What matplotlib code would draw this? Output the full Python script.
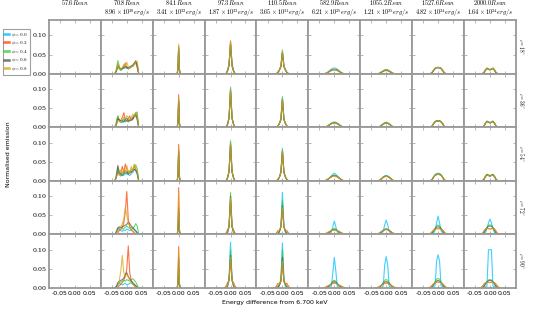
import matplotlib
matplotlib.use("Agg")
import matplotlib.pyplot as plt
import matplotlib.ticker as mticker
from matplotlib.lines import Line2D

plt.rcParams['mathtext.fontset'] = 'cm'

# ---------------- data ----------------
PHASES = ["0.0", "0.2", "0.4", "0.6", "0.8"]
COLORS = ["#00BFFF", "#FF4500", "#32CD32", "#555555", "#DAA520"]
INCLINATIONS = [18, 36, 54, 72, 90]
RADII = ["57.6", "70.8", "84.1", "97.3", "110.5", "582.9", "1055.2", "1527.6", "2000.0"]
LUMS = [None, r"8.96\times10^{30}", r"3.41\times10^{32}", r"1.87\times10^{32}",
        r"3.65\times10^{31}", r"6.21\times10^{25}", r"1.21\times10^{25}",
        r"4.82\times10^{24}", r"1.64\times10^{24}"]

# energy grids (keV offset from 6.700 keV) per column
E708 = [-0.045, -0.04, -0.035, -0.03, -0.025, -0.02, -0.015, -0.01, -0.005, 0.0,
        0.005, 0.01, 0.015, 0.02, 0.025, 0.03, 0.035, 0.04, 0.045]
E841 = [-0.0075, -0.005, -0.0025, 0.0, 0.0025, 0.005, 0.0075]
E973 = [-0.02, -0.015, -0.01, -0.005, 0.0, 0.005, 0.01, 0.015, 0.02]
E1105 = [-0.025, -0.02, -0.015, -0.01, -0.005, 0.0, 0.005, 0.01, 0.015, 0.02, 0.025]
EWIDE = [-0.035, -0.03, -0.025, -0.02, -0.015, -0.01, -0.005, 0.0, 0.005, 0.01,
         0.015, 0.02, 0.025, 0.03, 0.035]

# emission values in units of 1e-3, one list per phase (0.0,0.2,0.4,0.6,0.8)
# ---- i = 18
I18_708 = [[0,0,5,18,15,10,12,14,15,18,14,15,17,20,25,28,20,0,0],
           [0,0,8,25,12,10,15,20,28,15,12,16,18,22,28,30,15,0,0],
           [0,0,12,34,20,8,12,15,18,14,16,14,20,18,24,32,25,0,0],
           [0,0,6,20,15,12,14,16,20,16,15,18,20,22,26,34,22,0,0],
           [0,0,8,22,14,10,16,24,20,30,18,14,18,20,24,30,33,0,0]]
I18_841 = [[0,0,12,70,10,0,0],[0,0,14,72,12,0,0],[0,0,10,68,10,0,0],
           [0,0,12,64,10,0,0],[0,0,14,77,12,0,0]]
I18_973 = [[0,0,8,25,75,28,8,0,0],[0,0,8,22,85,20,6,0,0],[0,0,7,22,80,20,7,0,0],
           [0,0,8,22,78,22,8,0,0],[0,0,8,24,86,22,8,0,0]]
I18_1105 = [[0,0,3,10,20,55,20,10,3,0,0],[0,0,3,9,18,56,18,9,3,0,0],
            [0,0,3,10,20,62,20,10,3,0,0],[0,0,3,10,19,55,19,10,3,0,0],
            [0,1,4,10,20,58,20,10,4,1,0]]
I18_5829 = [[0,0,2,5,9,12,14,15,14,12,9,5,2,0,0],[0,0,2,4,7,9,10,11,10,9,7,4,2,0,0],
            [0,0,2,4,7,9,11,11,11,9,7,4,2,0,0],[0,0,2,4,6,8,10,10,10,8,6,4,2,0,0],
            [0,1,2,4,7,9,10,11,10,9,7,4,2,1,0]]
I18_10552 = [[0,0,0,2,5,8,10,11,10,8,5,2,0,0,0],[0,0,0,2,4,6,8,9,8,6,4,2,0,0,0],
             [0,0,0,2,5,7,9,10,9,7,5,2,0,0,0],[0,0,0,2,4,6,8,9,8,6,4,2,0,0,0],
             [0,0,1,3,5,7,9,10,9,7,5,3,1,0,0]]
I18_15276 = [[0,0,0,3,9,14,16,17,16,14,9,3,0,0,0],[0,0,0,3,9,14,16,16,16,14,9,3,0,0,0],
             [0,0,0,3,9,14,16,16,16,14,9,3,0,0,0],[0,0,0,3,8,13,15,15,15,13,8,3,0,0,0],
             [0,0,1,4,9,14,16,16,16,14,9,4,1,0,0]]
I18_20000 = [[0,0,0,3,10,14,12,10,12,14,10,3,0,0,0],[0,0,0,3,10,14,12,10,12,14,10,3,0,0,0],
             [0,0,0,3,10,15,12,11,12,15,10,3,0,0,0],[0,0,0,3,9,13,11,10,11,13,9,3,0,0,0],
             [0,0,1,4,10,14,12,10,12,14,10,4,1,0,0]]
# ---- i = 36
I36_708 = [[0,0,8,20,18,15,12,16,14,18,15,20,18,22,28,30,18,0,0],
           [0,0,10,28,14,18,25,38,20,16,22,30,18,20,32,38,26,0,0],
           [0,0,14,30,18,12,16,22,18,15,14,20,24,26,30,36,40,0,0],
           [0,0,6,22,20,16,18,14,20,24,18,16,20,22,28,32,24,0,0],
           [0,0,8,18,16,14,20,26,22,30,26,18,22,34,28,36,30,0,0]]
I36_841 = [[0,0,12,65,10,0,0],[0,0,14,85,12,0,0],[0,0,12,72,10,0,0],
           [0,0,12,70,10,0,0],[0,0,14,80,12,0,0]]
I36_973 = [[0,0,8,25,105,25,8,0,0],[0,0,8,24,95,22,8,0,0],[0,0,8,25,100,24,8,0,0],
           [0,0,8,24,95,24,8,0,0],[0,0,8,25,100,24,8,0,0]]
I36_1105 = [[0,0,3,10,22,80,22,10,3,0,0],[0,0,3,10,20,74,20,10,3,0,0],
            [0,0,3,10,21,76,21,10,3,0,0],[0,0,3,10,20,72,20,10,3,0,0],
            [0,1,4,10,21,75,21,10,4,1,0]]
I36_5829 = [[0,0,2,5,8,11,13,14,13,11,8,5,2,0,0],[0,1,2,4,7,9,11,12,11,9,7,4,2,1,0],
            [0,0,2,4,7,10,12,12,12,10,7,4,2,0,0],[0,0,2,4,7,9,11,11,11,9,7,4,2,0,0],
            [0,1,3,5,7,9,11,12,11,9,7,5,3,1,0]]
I36_10552 = [[0,0,0,2,6,9,12,13,12,9,6,2,0,0,0],[0,0,1,3,5,8,10,11,10,8,5,3,1,0,0],
             [0,0,0,2,6,9,11,12,11,9,6,2,0,0,0],[0,0,0,2,5,8,10,11,10,8,5,2,0,0,0],
             [0,0,1,3,6,8,10,11,10,8,6,3,1,0,0]]
I36_15276 = [[0,0,0,3,10,15,17,18,17,15,10,3,0,0,0],[0,0,1,4,10,14,16,16,16,14,10,4,1,0,0],
             [0,0,0,3,10,15,17,17,17,15,10,3,0,0,0],[0,0,0,3,9,14,16,16,16,14,9,3,0,0,0],
             [0,0,1,4,10,14,16,16,16,14,10,4,1,0,0]]
I36_20000 = [[0,0,0,4,11,16,14,12,14,16,11,4,0,0,0],[0,0,1,4,11,15,13,11,13,15,11,4,1,0,0],
             [0,0,0,4,11,16,14,12,14,16,11,4,0,0,0],[0,0,0,3,10,15,13,11,13,15,10,3,0,0,0],
             [0,0,1,4,11,15,13,11,13,15,11,4,1,0,0]]
# ---- i = 54
I54_708 = [[0,0,10,22,18,12,16,14,20,18,16,14,18,22,30,26,16,0,0],
           [0,0,12,26,16,20,38,22,44,30,18,26,22,28,40,30,20,0,0],
           [0,0,16,36,20,16,22,24,18,20,26,22,30,28,34,42,32,0,0],
           [0,0,8,40,22,18,14,20,26,22,18,20,24,26,30,28,22,0,0],
           [0,0,10,20,14,28,18,30,22,40,24,18,38,26,44,32,26,0,0]]
I54_841 = [[0,0,12,70,10,0,0],[0,0,14,95,12,0,0],[0,0,12,75,10,0,0],
           [0,0,12,80,10,0,0],[0,0,14,88,12,0,0]]
I54_973 = [[0,0,8,25,100,25,8,0,0],[0,0,8,24,95,22,8,0,0],[0,0,8,25,105,24,8,0,0],
           [0,0,8,24,95,24,8,0,0],[0,0,8,25,98,24,8,0,0]]
I54_1105 = [[0,0,3,10,24,85,24,10,3,0,0],[0,0,3,10,22,78,22,10,3,0,0],
            [0,0,3,10,23,80,23,10,3,0,0],[0,0,3,10,22,76,22,10,3,0,0],
            [0,1,4,10,22,78,22,10,4,1,0]]
I54_5829 = [[0,0,2,5,9,13,17,20,17,13,9,5,2,0,0],[0,1,3,5,8,10,12,13,12,10,8,5,3,1,0],
            [0,0,2,5,8,11,14,15,14,11,8,5,2,0,0],[0,0,2,5,8,11,13,14,13,11,8,5,2,0,0],
            [0,1,3,5,8,10,12,13,12,10,8,5,3,1,0]]
I54_10552 = [[0,0,0,2,6,10,13,14,13,10,6,2,0,0,0],[0,0,1,3,6,9,11,12,11,9,6,3,1,0,0],
             [0,0,0,2,6,10,12,13,12,10,6,2,0,0,0],[0,0,0,2,6,9,11,12,11,9,6,2,0,0,0],
             [0,0,1,3,6,9,11,12,11,9,6,3,1,0,0]]
I54_15276 = [[0,0,0,3,10,16,19,20,19,16,10,3,0,0,0],[0,0,1,4,10,14,16,17,16,14,10,4,1,0,0],
             [0,0,0,3,10,15,17,18,17,15,10,3,0,0,0],[0,0,0,3,10,15,17,17,17,15,10,3,0,0,0],
             [0,0,1,4,10,14,16,17,16,14,10,4,1,0,0]]
I54_20000 = [[0,0,0,4,12,17,15,14,15,17,12,4,0,0,0],[0,0,1,5,12,16,14,12,14,16,12,5,1,0,0],
             [0,0,0,4,12,17,15,13,15,17,12,4,0,0,0],[0,0,0,4,11,16,14,12,14,16,11,4,0,0,0],
             [0,0,1,5,12,16,14,12,14,16,12,5,1,0,0]]
# ---- i = 72
I72_708 = [[0,0,6,18,14,10,8,12,10,14,12,10,12,16,12,8,4,0,0],
           [0,0,0,4,10,14,18,30,60,112,40,20,12,8,4,0,0,0,0],
           [0,0,4,12,16,18,14,16,18,22,18,16,18,16,20,28,22,0,0],
           [0,0,8,16,20,18,20,22,24,26,32,28,22,18,14,10,4,0,0],
           [0,0,4,10,16,20,28,40,70,50,30,20,14,10,6,2,0,0,0]]
I72_841 = [[0,0,8,45,8,0,0],[0,0,16,122,14,0,0],[0,0,10,60,10,0,0],
           [0,0,12,70,10,0,0],[0,0,16,110,14,0,0]]
I72_973 = [[0,0,4,20,85,20,4,0,0],[0,4,12,18,90,18,12,4,0],[0,0,6,24,110,24,6,0,0],
           [0,0,6,22,100,22,6,0,0],[0,2,8,22,95,22,8,2,0]]
I72_1105 = [[0,0,2,6,22,110,22,6,2,0,0],[0,4,10,10,18,65,18,10,10,4,0],
            [0,0,3,8,22,90,22,8,3,0,0],[0,0,3,8,20,75,20,8,3,0,0],
            [0,3,8,10,20,70,20,10,8,3,0]]
I72_5829 = [[0,0,0,1,3,6,20,35,20,6,3,1,0,0,0],[0,2,4,6,8,10,11,12,11,10,8,6,4,2,0],
            [0,0,1,3,6,10,14,16,14,10,6,3,1,0,0],[0,0,2,4,7,10,12,13,12,10,7,4,2,0,0],
            [0,2,4,6,8,10,11,12,11,10,8,6,4,2,0]]
I72_10552 = [[0,0,0,1,3,8,25,37,25,8,3,1,0,0,0],[0,1,3,5,8,10,12,13,12,10,8,5,3,1,0],
             [0,0,1,3,7,11,14,15,14,11,7,3,1,0,0],[0,0,1,4,7,10,12,14,12,10,7,4,1,0,0],
             [0,1,3,5,8,10,12,13,12,10,8,5,3,1,0]]
I72_15276 = [[0,0,0,1,4,10,30,48,30,10,4,1,0,0,0],[0,0,3,7,11,14,15,15,15,14,11,7,3,0,0],
             [0,0,0,2,8,16,22,25,22,16,8,2,0,0,0],[0,0,1,4,10,15,19,20,19,15,10,4,1,0,0],
             [0,0,3,7,11,14,15,15,15,14,11,7,3,0,0]]
I72_20000 = [[0,0,0,1,5,14,30,40,30,14,5,1,0,0,0],[0,0,3,9,14,16,15,14,15,16,14,9,3,0,0],
             [0,0,0,3,10,18,24,25,24,18,10,3,0,0,0],[0,0,1,5,12,18,21,22,21,18,12,5,1,0,0],
             [0,0,3,9,14,16,15,15,15,16,14,9,3,0,0]]
# ---- i = 90
I90_708 = [[0,0,4,10,12,10,8,10,12,8,10,12,14,10,8,6,2,0,0],
           [0,0,0,2,6,10,14,20,30,50,110,40,20,12,6,2,0,0,0],
           [0,0,2,10,14,16,18,20,18,22,20,18,22,24,20,16,8,0,0],
           [0,0,4,14,18,20,22,26,34,40,30,24,18,14,10,6,2,0,0],
           [0,0,0,4,20,45,85,40,30,36,28,20,14,10,6,2,0,0,0]]
I90_841 = [[0,0,8,35,8,0,0],[0,0,16,108,14,0,0],[0,0,10,55,10,0,0],
           [0,0,12,80,10,0,0],[0,0,16,100,14,0,0]]
I90_973 = [[0,0,4,22,120,22,4,0,0],[0,5,14,18,75,18,14,5,0],[0,0,6,24,100,24,6,0,0],
           [0,0,6,22,85,22,6,0,0],[0,2,9,22,80,22,9,2,0]]
I90_1105 = [[0,0,2,5,22,118,22,5,2,0,0],[0,5,12,10,16,60,16,10,12,5,0],
            [0,0,3,8,24,100,24,8,3,0,0],[0,0,3,8,20,80,20,8,3,0,0],
            [0,4,10,10,18,70,18,10,10,4,0]]
I90_5829 = [[0,0,0,1,2,4,40,80,45,4,2,1,0,0,0],[0,2,4,6,8,10,12,13,12,10,8,6,4,2,0],
            [0,0,1,3,7,12,18,20,18,12,7,3,1,0,0],[0,0,2,4,7,11,15,17,15,11,7,4,2,0,0],
            [0,2,4,6,8,10,12,13,12,10,8,6,4,2,0]]
I90_10552 = [[0,0,0,1,2,5,60,82,60,5,2,1,0,0,0],[0,1,3,5,8,10,12,13,12,10,8,5,3,1,0],
             [0,0,1,3,8,14,20,22,20,14,8,3,1,0,0],[0,0,1,4,8,12,15,17,15,12,8,4,1,0,0],
             [0,1,3,5,8,10,12,13,12,10,8,5,3,1,0]]
I90_15276 = [[0,0,0,1,3,6,70,87,70,6,3,1,0,0,0],[0,0,3,7,11,14,15,15,15,14,11,7,3,0,0],
             [0,0,0,2,8,16,23,25,23,16,8,2,0,0,0],[0,0,1,4,9,14,18,20,18,14,9,4,1,0,0],
             [0,0,3,7,11,14,15,15,15,14,11,7,3,0,0]]
I90_20000 = [[0,0,0,1,3,5,100,100,100,5,3,1,0,0,0],[0,1,5,10,14,15,15,14,15,15,14,10,5,1,0],
             [0,0,0,3,10,17,21,22,21,17,10,3,0,0,0],[0,0,1,5,11,16,19,20,19,16,11,5,1,0,0],
             [0,1,5,10,14,15,15,14,15,15,14,10,5,1,0]]

GRIDS = [None, E708, E841, E973, E1105, EWIDE, EWIDE, EWIDE, EWIDE]
TABLE = [
    [None, I18_708, I18_841, I18_973, I18_1105, I18_5829, I18_10552, I18_15276, I18_20000],
    [None, I36_708, I36_841, I36_973, I36_1105, I36_5829, I36_10552, I36_15276, I36_20000],
    [None, I54_708, I54_841, I54_973, I54_1105, I54_5829, I54_10552, I54_15276, I54_20000],
    [None, I72_708, I72_841, I72_973, I72_1105, I72_5829, I72_10552, I72_15276, I72_20000],
    [None, I90_708, I90_841, I90_973, I90_1105, I90_5829, I90_10552, I90_15276, I90_20000],
]

# ---------------- figure ----------------
fig, axes = plt.subplots(5, 9, sharex=True, sharey=True, figsize=(5.5, 3.09), dpi=100)
fig.subplots_adjust(left=0.089, right=0.938, top=0.935, bottom=0.068, wspace=0, hspace=0)

SPINE = "#999999"
for r in range(5):
    for c in range(9):
        ax = axes[r, c]
        panel = TABLE[r][c]
        if panel is not None:
            for k in range(5):
                ax.plot(GRIDS[c], [v / 1000.0 for v in panel[k]], color=COLORS[k],
                        lw=0.8, alpha=0.75)
        ax.set_xlim(-0.087, 0.087)
        ax.set_ylim(0, 0.14)
        ax.set_xticks([-0.05, 0.0, 0.05])
        ax.set_yticks([0.0, 0.05, 0.10])
        ax.tick_params(direction='in', top=True, right=True, length=2.5, width=0.5,
                       color=SPINE, labelsize=4.5, pad=2)
        for s in ax.spines.values():
            s.set_color(SPINE)
            s.set_linewidth(1.3)
        if r == 0:
            if LUMS[c] is not None:
                ax.text(0.5, 1.025, "$" + LUMS[c] + "erg/s$", transform=ax.transAxes,
                        ha='center', va='bottom', fontsize=4.5)
            ax.text(0.5, 1.235, "$" + RADII[c] + "Rsun$", transform=ax.transAxes,
                    ha='center', va='bottom', fontsize=4.5)
        if c == 8:
            ax.text(1.1, 0.5, r"$i=%d^\circ$" % INCLINATIONS[r], transform=ax.transAxes,
                    rotation=270, fontsize=3.8, ha='center', va='center')
    for lab in axes[r, 0].get_yticklabels():
        lab.set_fontfamily('DejaVu Serif')
        lab.set_fontsize(4.5)

axes[0, 0].xaxis.set_major_formatter(mticker.FormatStrFormatter('%.2f'))
axes[0, 0].yaxis.set_major_formatter(mticker.FormatStrFormatter('%.2f'))

fig.text(0.5, 0.012, "Energy difference from 6.700 keV", ha='center', va='bottom', fontsize=4.5)
fig.text(0.015, 0.5, "Normalised emission", ha='center', va='center', rotation=90, fontsize=4.5)

handles = [Line2D([], [], color=COLORS[k], lw=1.8, alpha=0.8) for k in range(5)]
labels = [r"$\phi=%s$" % p for p in PHASES]
leg = fig.legend(handles, labels, loc='upper left', bbox_to_anchor=(0.0, 0.915),
                 fontsize=3.6, frameon=True, fancybox=False, edgecolor="#888888",
                 handlelength=1.0, handletextpad=0.4, borderpad=0.35, labelspacing=0.12)
leg.get_frame().set_linewidth(0.8)

fig.savefig("out.png", dpi=100)
